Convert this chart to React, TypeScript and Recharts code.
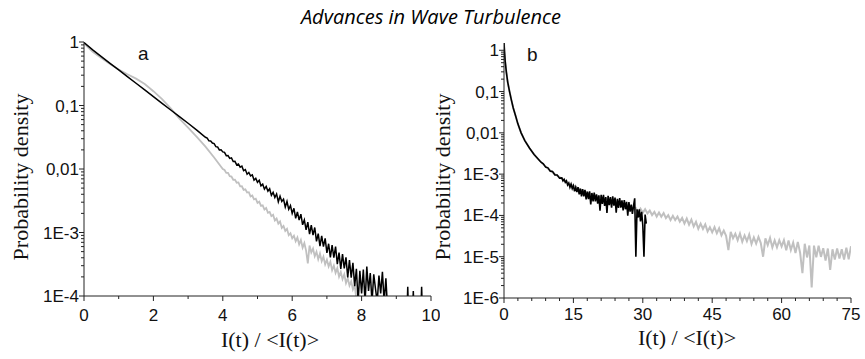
import { LineChart, Line, XAxis, YAxis } from "recharts";

type Pt = [number, number];

// ---- panel a ----
const aXTicks = [0, 2, 4, 6, 8, 10];
const aXMinor = [1, 3, 5, 7, 9];
const aYTicks = [1e-4, 1e-3, 0.01, 0.1, 1];
const aYLabels = ["1E-4", "1E-3", "0,01", "0,1", "1"];

const aGray: Pt[] = [
  [0, 0.95], [0.25, 0.7], [0.5, 0.56], [0.75, 0.45], [1, 0.37], [1.25, 0.31], [1.5, 0.265], [1.75, 0.218],
  [2, 0.168], [2.25, 0.126], [2.5, 0.09], [2.75, 0.062], [3, 0.045], [3.25, 0.032], [3.5, 0.0225], [3.75, 0.0152],
  [4, 1.0e-2], [4.05, 9.64e-3], [4.1, 8.67e-3], [4.15, 8.7e-3], [4.2, 7.71e-3], [4.25, 7.6e-3], [4.3, 6.76e-3], [4.35, 6.8e-3], [4.4, 6.08e-3], [4.45, 6.14e-3],
  [4.5, 5.33e-3], [4.55, 5.35e-3], [4.6, 4.69e-3], [4.65, 4.79e-3], [4.7, 4.26e-3], [4.75, 4.31e-3], [4.8, 3.7e-3], [4.85, 3.82e-3], [4.9, 3.32e-3], [4.95, 3.4e-3],
  [5, 2.92e-3], [5.05, 3.05e-3], [5.1, 2.62e-3], [5.15, 2.68e-3], [5.2, 2.3e-3], [5.25, 2.43e-3], [5.3, 2.04e-3], [5.35, 2.11e-3], [5.4, 1.81e-3], [5.45, 1.9e-3],
  [5.5, 1.55e-3], [5.55, 1.66e-3], [5.6, 1.38e-3], [5.65, 1.49e-3], [5.7, 1.18e-3], [5.75, 1.27e-3], [5.8, 1.06e-3], [5.85, 1.14e-3], [5.9, 9.06e-4], [5.95, 9.73e-4],
  [6, 8.13e-4], [6.05, 8.91e-4], [6.1, 7.26e-4], [6.15, 8.34e-4], [6.2, 6.49e-4], [6.25, 7.62e-4], [6.3, 5.79e-4], [6.35, 6.81e-4], [6.4, 5.18e-4], [6.45, 3.27e-4],
  [6.5, 6.24e-4], [6.55, 4.84e-4], [6.6, 5.57e-4], [6.65, 4.23e-4], [6.7, 4.98e-4], [6.75, 3.78e-4], [6.8, 4.66e-4], [6.85, 3.53e-4], [6.9, 4.16e-4], [6.95, 3.15e-4],
  [7, 3.72e-4], [7.05, 2.92e-4], [7.1, 3.47e-4], [7.15, 2.54e-4], [7.2, 3.02e-4], [7.25, 2.32e-4], [7.3, 2.75e-4], [7.35, 2.02e-4], [7.4, 2.4e-4], [7.45, 1.84e-4],
  [7.5, 2.19e-4], [7.55, 1.6e-4], [7.6, 1.91e-4], [7.65, 1.46e-4], [7.7, 1.7e-4], [7.75, 1.27e-4], [7.8, 1.48e-4], [7.85, 9e-5], [7.9, 6e-5],
];

const aBlack: Pt[] = [
  [0, 0.98], [0.25, 0.75], [0.5, 0.589], [0.75, 0.462], [1, 0.363], [1.25, 0.285], [1.5, 0.224], [1.75, 0.176],
  [2, 0.138], [2.25, 0.108], [2.5, 0.085], [2.75, 0.067], [3, 0.0525], [3.25, 0.041],
  [3.5, 3.16e-2], [3.55, 3.07e-2], [3.6, 2.78e-2], [3.65, 2.76e-2], [3.7, 2.56e-2], [3.75, 2.51e-2], [3.8, 2.25e-2], [3.85, 2.23e-2], [3.9, 2.0e-2], [3.95, 2.01e-2],
  [4, 1.86e-2], [4.05, 1.83e-2], [4.1, 1.62e-2], [4.15, 1.63e-2], [4.2, 1.47e-2], [4.25, 1.5e-2], [4.3, 1.31e-2], [4.35, 1.32e-2], [4.4, 1.16e-2], [4.45, 1.2e-2],
  [4.5, 1.07e-2], [4.55, 1.11e-2], [4.6, 9.42e-3], [4.65, 9.79e-3], [4.7, 8.28e-3], [4.75, 8.81e-3], [4.8, 7.8e-3], [4.85, 8.11e-3], [4.9, 6.7e-3], [4.95, 7.13e-3],
  [5, 6.17e-3], [5.05, 6.64e-3], [5.1, 5.42e-3], [5.15, 5.77e-3], [5.2, 4.82e-3], [5.25, 5.31e-3], [5.3, 4.49e-3], [5.35, 4.89e-3], [5.4, 3.85e-3], [5.45, 4.3e-3],
  [5.5, 3.55e-3], [5.55, 4.05e-3], [5.6, 3.05e-3], [5.65, 3.72e-3], [5.7, 3.08e-3], [5.75, 3.35e-3], [5.8, 2.52e-3], [5.85, 3.08e-3], [5.9, 2.32e-3], [5.95, 2.65e-3],
  [6, 2.0e-3], [6.05, 2.4e-3], [6.1, 1.67e-3], [6.15, 2.11e-3], [6.2, 1.57e-3], [6.25, 1.94e-3], [6.3, 1.32e-3], [6.35, 1.58e-3], [6.4, 1.1e-3], [6.45, 1.46e-3],
  [6.5, 9.44e-4], [6.55, 1.31e-3], [6.6, 9.08e-4], [6.65, 1.2e-3], [6.7, 7.26e-4], [6.75, 9.6e-4], [6.8, 6.08e-4], [6.85, 8.81e-4], [6.9, 5.98e-4], [6.95, 8.09e-4],
  [7, 4.79e-4], [7.05, 6.65e-4], [7.1, 4.05e-4], [7.15, 6.31e-4], [7.2, 4.02e-4], [7.25, 5.98e-4], [7.3, 3.17e-4], [7.35, 4.83e-4], [7.4, 2.68e-4], [7.45, 4.58e-4],
  [7.5, 2.72e-4], [7.55, 4.06e-4], [7.6, 1.96e-4], [7.65, 3.67e-4], [7.7, 1.95e-4], [7.75, 3.33e-4], [7.8, 1.43e-4], [7.85, 2.69e-4], [7.9, 8e-5], [7.95, 2.49e-4],
  [8, 1.1e-4], [8.05, 2.6e-4], [8.1, 8e-5], [8.15, 2.9e-4], [8.2, 1.2e-4], [8.25, 2.3e-4], [8.3, 8e-5], [8.35, 2.2e-4], [8.4, 1.3e-4], [8.45, 8e-5],
  [8.5, 2.1e-4], [8.55, 1.1e-4], [8.6, 2.4e-4], [8.65, 8e-5], [8.7, 1.9e-4], [8.75, 6e-5],
  [9.31, 6e-5], [9.33, 1.4e-4], [9.35, 6e-5], [9.47, 6e-5], [9.49, 1.2e-4], [9.51, 6e-5], [9.71, 6e-5], [9.73, 1.4e-4], [9.75, 6e-5],
];

// ---- panel b ----
const bXTicks = [0, 15, 30, 45, 60, 75];
const bXMinor = [3, 6, 9, 12, 18, 21, 24, 27, 33, 36, 39, 42, 48, 51, 54, 57, 63, 66, 69, 72];
const bYTicks = [1e-6, 1e-5, 1e-4, 1e-3, 0.01, 0.1, 1];
const bYLabels = ["1E-6", "1E-5", "1E-4", "1E-3", "0,01", "0,1", "1"];

const bGray: Pt[] = [
  [0, 1.5], [0.1, 0.95], [0.25, 0.55], [0.5, 0.3], [0.8, 0.17], [1.2, 0.1], [1.6, 0.062], [2, 0.04], [2.5, 0.026],
  [3, 0.0165], [3.7, 0.01], [4.5, 6.5e-3], [5.5, 4.3e-3], [6.5, 3.0e-3], [8, 1.95e-3], [9.5, 1.35e-3], [11, 1.0e-3],
  [12.5, 7.8e-4], [14, 6.0e-4], [15.5, 4.9e-4], [17, 4.0e-4], [18.5, 3.4e-4], [20, 2.9e-4], [21.5, 2.6e-4], [23, 2.35e-4],
  [24.5, 2.15e-4], [26, 1.9e-4], [27.5, 1.6e-4],
  [28, 1.41e-4], [28.5, 1.51e-4], [29, 1.19e-4], [29.5, 1.46e-4], [30, 1.16e-4], [30.5, 1.42e-4], [31, 1.12e-4], [31.5, 1.31e-4],
  [32, 1.02e-4], [32.5, 1.22e-4], [33, 9.4e-5], [33.5, 1.18e-4], [34, 9.3e-5], [34.5, 1.14e-4], [35, 8.6e-5], [35.5, 1.02e-4],
  [36, 7.7e-5], [36.5, 9.8e-5], [37, 7.7e-5], [37.5, 9.4e-5], [38, 7.1e-5], [38.5, 8.7e-5], [39, 6.4e-5], [39.5, 8.4e-5],
  [40, 6.0e-5], [40.5, 7.9e-5], [41, 5.4e-5], [41.5, 7.0e-5], [42, 4.75e-5], [42.5, 6.3e-5], [43, 4.7e-5], [43.5, 6.1e-5],
  [44, 4.1e-5], [44.5, 5.2e-5], [45, 3.9e-5], [45.5, 5.2e-5], [46, 3.7e-5], [46.5, 4.9e-5], [47, 3.3e-5], [47.5, 4.3e-5],
  [48, 3.2e-5], [48.5, 1.44e-5], [49, 4.0e-5], [49.5, 2.8e-5], [50, 3.6e-5], [50.5, 2.52e-5], [51, 3.65e-5], [51.5, 2.31e-5],
  [52, 3.27e-5], [52.5, 2.37e-5], [53, 3.44e-5], [53.5, 2.03e-5], [54, 2.94e-5], [54.5, 2.08e-5], [55, 3.02e-5], [55.5, 2.14e-5],
  [56, 1.0e-5], [56.5, 2.77e-5], [57, 1.92e-5], [57.5, 2.85e-5], [58, 1.68e-5], [58.5, 2.49e-5], [59, 1.69e-5], [59.5, 2.51e-5],
  [60, 1.78e-5], [60.5, 2.5e-5], [61, 1.44e-5], [61.5, 2.48e-5], [62, 1.46e-5], [62.5, 2.2e-5], [63, 1.23e-5], [63.5, 2.29e-5],
  [64, 1.25e-5], [64.5, 4.0e-6], [65, 2.06e-5], [65.5, 9.6e-6], [66, 1.87e-5], [66.5, 1.8e-6], [67, 1.86e-5], [67.5, 9.7e-6],
  [68, 1.85e-5], [68.5, 9.9e-6], [69, 1.6e-5], [69.5, 8.1e-6], [70, 1.58e-5], [70.5, 4.8e-6], [71, 1.51e-5], [71.5, 8.5e-6],
  [72, 1.58e-5], [72.5, 9.1e-6], [73, 1.51e-5], [73.5, 8.5e-6], [74, 1.66e-5], [74.5, 8.7e-6], [75, 1.8e-5],
];

const bBlack: Pt[] = [
  [0, 1.5], [0.1, 0.95], [0.25, 0.55], [0.5, 0.3], [0.8, 0.17], [1.2, 0.1], [1.6, 0.062], [2, 0.04], [2.5, 0.026],
  [3, 0.0165], [3.7, 0.01], [4.5, 6.5e-3], [5.5, 4.3e-3], [6.5, 3.0e-3],
  [8, 1.95e-3], [8.5, 1.78e-3], [9, 1.48e-3], [9.5, 1.42e-3], [10, 1.18e-3], [10.5, 1.16e-3], [11, 9.6e-4], [11.5, 9.5e-4], [12, 8.0e-4],
  [12.5, 8.13e-4], [12.75, 6.87e-4], [13, 7.48e-4], [13.25, 6.32e-4], [13.5, 6.89e-4], [13.75, 5.43e-4], [14, 6.05e-4], [14.25, 4.78e-4],
  [14.5, 5.7e-4], [14.75, 4.5e-4], [15, 5.25e-4], [15.25, 3.85e-4], [15.5, 4.81e-4], [15.75, 3.7e-4], [16, 4.83e-4], [16.25, 3.24e-4],
  [16.5, 4.43e-4], [16.75, 2.9e-4], [17, 4.35e-4], [17.25, 2.91e-4], [17.5, 4.17e-4], [17.75, 2.45e-4], [18, 3.78e-4], [18.25, 2.49e-4],
  [18.5, 3.85e-4], [18.75, 1.84e-4], [19, 3.5e-4], [19.25, 2.2e-4], [19.5, 3.56e-4], [19.75, 2.19e-4], [20, 3.24e-4], [20.25, 1.92e-4],
  [20.5, 3.08e-4], [20.75, 1.3e-4], [21, 3.15e-4], [21.25, 1.91e-4], [21.5, 3.14e-4], [21.75, 1.7e-4], [22, 2.79e-4], [22.25, 1.15e-4],
  [22.5, 2.99e-4], [22.75, 1.77e-4], [23, 2.78e-4], [23.25, 1.54e-4], [23.5, 2.9e-4], [23.75, 1.73e-4], [24, 2.7e-4], [24.25, 1.16e-4],
  [24.5, 2.52e-4], [24.75, 1.53e-4], [25, 2.63e-4], [25.25, 1.54e-4], [25.5, 2.32e-4], [25.75, 1.33e-4], [26, 2.36e-4], [26.25, 1.41e-4],
  [26.5, 2.13e-4], [26.75, 9.9e-5], [27, 2.11e-4], [27.25, 1.24e-4], [27.5, 1.82e-4], [27.75, 1.09e-4], [28, 1.73e-4], [28.25, 2.6e-4],
  [28.5, 1.0e-5], [28.75, 1.4e-4], [29, 8.9e-5], [29.25, 1.41e-4], [29.5, 7.2e-5], [29.75, 1.22e-4], [30, 5.8e-5], [30.25, 1.0e-5],
  [30.5, 1.05e-4], [30.75, 6.3e-5],
];

const sans = "'Liberation Sans', Arial, sans-serif";
const serif = "'Liberation Serif', 'Times New Roman', serif";
const axisColor = "#222";

const toPts = (arr: Pt[]) => arr.map(([x, y]) => ({ x, y }));

// log minor ticks at 2..9 of each decade
const logMinors = (majors: number[]) =>
  majors.slice(0, -1).flatMap((m) => [2, 3, 4, 5, 6, 7, 8, 9].map((k) => k * m));

const isMajor = (majors: number[], v: number) => majors.findIndex((m) => Math.abs(m / v - 1) < 1e-9);

function YTick(props: any) {
  const { x, y, payload, majors, labels } = props;
  const i = isMajor(majors, payload.value);
  const len = i >= 0 ? 5 : 3;
  return (
    <g>
      <line x1={x - len} x2={x} y1={y} y2={y} stroke={axisColor} strokeWidth={1} />
      {i >= 0 && (
        <text x={x - 5} y={y + 6} textAnchor="end" fontFamily={sans} fontSize={17} fill="#111">
          {labels[i]}
        </text>
      )}
    </g>
  );
}

function XTick(props: any) {
  const { x, y, payload, majors, dy } = props;
  const major = majors.includes(payload.value);
  return (
    <g>
      <line x1={x} x2={x} y1={y} y2={y + (major ? 5 : 3)} stroke={axisColor} strokeWidth={1} />
      {major && (
        <text x={x} y={y + dy} textAnchor="middle" fontFamily={sans} fontSize={17} fill="#111">
          {payload.value}
        </text>
      )}
    </g>
  );
}

const sortNum = (a: number[]) => [...a].sort((p, q) => p - q);

export default function App() {
  return (
    <div style={{ position: "absolute", left: 0, top: 0, width: 865, height: 359, background: "#fff" }}>
      <div style={{ position: "absolute", left: 0, top: 0 }}>
        <LineChart width={440} height={359} margin={{ top: 42, right: 9, bottom: 0, left: 0 }}>
          <XAxis
            type="number"
            dataKey="x"
            domain={[0, 10]}
            ticks={sortNum([...aXTicks, ...aXMinor])}
            interval={0}
            allowDataOverflow
            height={63}
            tickSize={0}
            tickMargin={0}
            tickLine={false}
            axisLine={{ stroke: axisColor }}
            tick={<XTick majors={aXTicks} dy={25} />}
          />
          <YAxis
            type="number"
            scale="log"
            domain={[1e-4, 1]}
            allowDataOverflow
            ticks={sortNum([...aYTicks, ...logMinors(aYTicks)])}
            interval={0}
            width={84}
            tickSize={0}
            tickMargin={0}
            tickLine={false}
            axisLine={{ stroke: axisColor }}
            tick={<YTick majors={aYTicks} labels={aYLabels} />}
          />
          <Line data={toPts(aGray)} dataKey="y" type="linear" stroke="#c0c0c0" strokeWidth={1.8} dot={false} isAnimationActive={false} />
          <Line data={toPts(aBlack)} dataKey="y" type="linear" stroke="#000" strokeWidth={1.5} dot={false} isAnimationActive={false} />
        </LineChart>
      </div>
      <div style={{ position: "absolute", left: 440, top: 0 }}>
        <LineChart width={425} height={359} margin={{ top: 43, right: 14, bottom: 0, left: 0 }}>
          <XAxis
            type="number"
            dataKey="x"
            domain={[0, 75]}
            ticks={sortNum([...bXTicks, ...bXMinor])}
            interval={0}
            allowDataOverflow
            height={61}
            tickSize={0}
            tickMargin={0}
            tickLine={false}
            axisLine={{ stroke: axisColor }}
            tick={<XTick majors={bXTicks} dy={22} />}
          />
          <YAxis
            type="number"
            scale="log"
            domain={[1e-6, 1.5]}
            allowDataOverflow
            ticks={sortNum([...bYTicks, ...logMinors(bYTicks)])}
            interval={0}
            width={64}
            tickSize={0}
            tickMargin={0}
            tickLine={false}
            axisLine={{ stroke: axisColor }}
            tick={<YTick majors={bYTicks} labels={bYLabels} />}
          />
          <Line data={toPts(bGray)} dataKey="y" type="linear" stroke="#c0c0c0" strokeWidth={2} dot={false} isAnimationActive={false} />
          <Line data={toPts(bBlack)} dataKey="y" type="linear" stroke="#000" strokeWidth={1.6} dot={false} isAnimationActive={false} />
        </LineChart>
      </div>
      <svg width={865} height={359} style={{ position: "absolute", left: 0, top: 0, pointerEvents: "none" }}>
        <text x={431} y={24} textAnchor="middle" fontFamily="'Open Sans', sans-serif" fontStyle="italic" fontSize={20} fill="#000">
          Advances in Wave Turbulence
        </text>
        <text x={138} y={60} fontFamily={sans} fontSize={19} fill="#111">a</text>
        <text x={527} y={61} fontFamily={sans} fontSize={19} fill="#111">b</text>
        <text x={270} y={347} textAnchor="middle" fontFamily={serif} fontSize={22} fill="#111">{"I(t) / <I(t)>"}</text>
        <text x={687} y={345} textAnchor="middle" fontFamily={serif} fontSize={22} fill="#111">{"I(t) / <I(t)>"}</text>
        <text transform="translate(28,177) rotate(-90)" textAnchor="middle" fontFamily={serif} fontSize={22} fill="#111">Probability density</text>
        <text transform="translate(450,177) rotate(-90)" textAnchor="middle" fontFamily={serif} fontSize={22} fill="#111">Probability density</text>
      </svg>
    </div>
  );
}
